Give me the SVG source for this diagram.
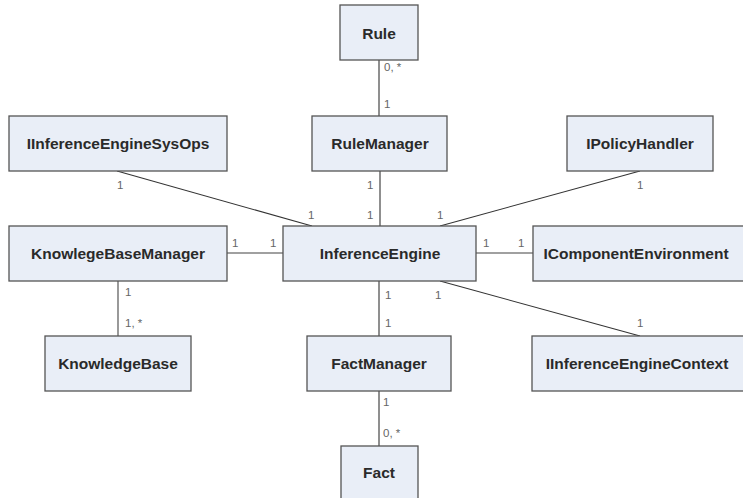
<svg xmlns="http://www.w3.org/2000/svg" width="743" height="498" viewBox="0 0 743 498">
  <style>
    .box { fill: #e9eef7; stroke: #555; stroke-width: 1.3; }
    .name { font-family: "Liberation Sans", Arial, sans-serif; font-weight: bold; font-size: 15.5px; fill: #2a2a2a; text-anchor: middle; dominant-baseline: central; }
    .link { stroke: #333; stroke-width: 1.1; fill: none; }
    .link.grey { stroke: #808080; stroke-width: 1.6; }
    .mult { font-family: "Liberation Sans", Arial, sans-serif; font-size: 11.5px; fill: #666; dominant-baseline: central; }
  </style>
  <rect width="743" height="498" fill="#fff"/>

  <g id="connectors">
    <line class="link" x1="379" y1="60" x2="379" y2="116"/>
    <line class="link" x1="380" y1="171" x2="380" y2="226"/>
    <line class="link" x1="117" y1="171" x2="312" y2="226"/>
    <line class="link" x1="640" y1="171" x2="440" y2="226"/>
    <line class="link grey" x1="227" y1="253" x2="283" y2="253"/>
    <line class="link grey" x1="476" y1="253" x2="533" y2="253"/>
    <line class="link grey" x1="118" y1="281" x2="118" y2="336"/>
    <line class="link" x1="379" y1="281" x2="379" y2="336"/>
    <line class="link" x1="440" y1="281" x2="640" y2="336"/>
    <line class="link" x1="379" y1="391" x2="379" y2="446"/>

    <text class="mult" x="384" y="67">0, *</text>
    <text class="mult" x="384" y="104">1</text>
    <text class="mult" x="117" y="185">1</text>
    <text class="mult" x="367" y="185">1</text>
    <text class="mult" x="637" y="185">1</text>
    <text class="mult" x="308" y="215">1</text>
    <text class="mult" x="367" y="215">1</text>
    <text class="mult" x="437" y="215">1</text>
    <text class="mult" x="232" y="243">1</text>
    <text class="mult" x="270" y="243">1</text>
    <text class="mult" x="483" y="243">1</text>
    <text class="mult" x="518" y="243">1</text>
    <text class="mult" x="125" y="292">1</text>
    <text class="mult" x="125" y="323">1, *</text>
    <text class="mult" x="385" y="295">1</text>
    <text class="mult" x="435" y="295">1</text>
    <text class="mult" x="385" y="323">1</text>
    <text class="mult" x="637" y="323">1</text>
    <text class="mult" x="383" y="402">1</text>
    <text class="mult" x="383" y="433">0, *</text>
  </g>

  <g id="Rule">
    <rect class="box" x="340" y="5" width="78" height="55"/>
    <text class="name" x="379" y="33">Rule</text>
  </g>
  <g id="IInferenceEngineSysOps">
    <rect class="box" x="9" y="116" width="218" height="55"/>
    <text class="name" x="118" y="143">IInferenceEngineSysOps</text>
  </g>
  <g id="RuleManager">
    <rect class="box" x="312" y="116" width="135" height="55"/>
    <text class="name" x="380" y="143">RuleManager</text>
  </g>
  <g id="IPolicyHandler">
    <rect class="box" x="567" y="116" width="146" height="55"/>
    <text class="name" x="640" y="143">IPolicyHandler</text>
  </g>
  <g id="KnowlegeBaseManager">
    <rect class="box" x="9" y="226" width="218" height="55"/>
    <text class="name" x="118" y="253">KnowlegeBaseManager</text>
  </g>
  <g id="InferenceEngine">
    <rect class="box" x="283" y="226" width="193" height="55"/>
    <text class="name" x="380" y="253">InferenceEngine</text>
  </g>
  <g id="IComponentEnvironment">
    <rect class="box" x="533" y="226" width="215" height="55"/>
    <text class="name" x="636" y="253">IComponentEnvironment</text>
  </g>
  <g id="KnowledgeBase">
    <rect class="box" x="45" y="336" width="146" height="55"/>
    <text class="name" x="118" y="363">KnowledgeBase</text>
  </g>
  <g id="FactManager">
    <rect class="box" x="307" y="336" width="144" height="55"/>
    <text class="name" x="379" y="363">FactManager</text>
  </g>
  <g id="IInferenceEngineContext">
    <rect class="box" x="532" y="336" width="216" height="55"/>
    <text class="name" x="637" y="363">IInferenceEngineContext</text>
  </g>
  <g id="Fact">
    <rect class="box" x="341" y="446" width="77" height="60"/>
    <text class="name" x="379" y="472">Fact</text>
  </g>
</svg>
